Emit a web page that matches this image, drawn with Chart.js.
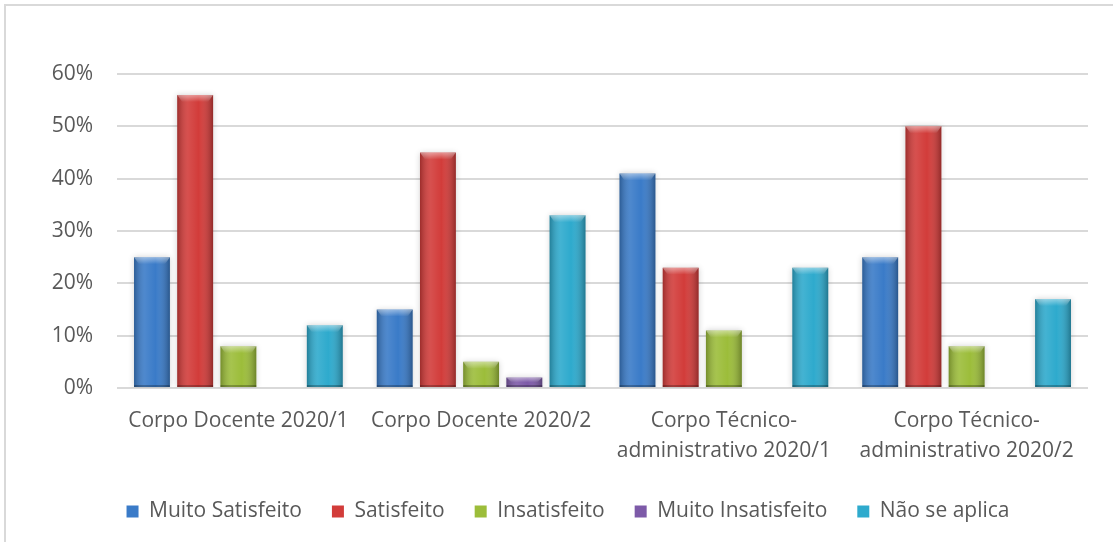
<!DOCTYPE html>
<html>
<head>
<meta charset="utf-8">
<script src="https://cdn.jsdelivr.net/npm/chart.js@4.4.1/dist/chart.umd.min.js"></script>
<style>
    body { margin: 0; background: #fff; }
    #wrap { position: relative; width: 1113px; height: 542px; overflow: hidden; }
    #frame { position: absolute; left: 4px; top: 4px; width: 1200px; height: 600px; border: 2px solid #d9d9d9; }
    canvas { position: absolute; left: 0; top: 0; }
</style>
</head>
<body>
<div id="wrap">
    <div id="frame"></div>
    <canvas id="chart" width="1113" height="542"></canvas>
</div>
<script>
// categories
const categories = [
    'Corpo Docente 2020/1',
    'Corpo Docente 2020/2',
    ['Corpo Técnico-', 'administrativo 2020/1'],
    ['Corpo Técnico-', 'administrativo 2020/2']
];
const seriesNames = ['Muito Satisfeito', 'Satisfeito', 'Insatisfeito', 'Muito Insatisfeito', 'Não se aplica'];

// values in %
const muitoSatisfeito = [25, 15, 41, 25];
const satisfeito = [56, 45, 23, 50];
const insatisfeito = [8, 5, 11, 8];
const muitoInsatisfeito = [0, 2, 0, 0];
const naoSeAplica = [12, 33, 23, 17];

const colors = ['#3a7bc8', '#d23c3a', '#9cbd3a', '#7d5aa8', '#2eaacd'];
const values = [muitoSatisfeito, satisfeito, insatisfeito, muitoInsatisfeito, naoSeAplica];

const textColor = '#595959';
const font = 'Open Sans';

// bevel/3D look on top of each bar
const bevelPlugin = {
    id: 'bevel',
    beforeDatasetDraw(chart) {
        const ctx = chart.ctx;
        ctx.save();
        ctx.shadowColor = 'rgba(0,0,0,0.18)';
        ctx.shadowBlur = 6;
        ctx.shadowOffsetX = 0;
        ctx.shadowOffsetY = 0;
    },
    afterDatasetDraw(chart) {
        chart.ctx.restore();
    },
    afterDatasetsDraw(chart) {
        const ctx = chart.ctx;
        chart.data.datasets.forEach((ds, i) => {
            const meta = chart.getDatasetMeta(i);
            meta.data.forEach(bar => {
                const h = bar.base - bar.y;
                if (h < 1) return;
                const left = bar.x - bar.width / 2;
                const g = ctx.createLinearGradient(left, 0, left + bar.width, 0);
                g.addColorStop(0, 'rgba(0,0,0,0.25)');
                g.addColorStop(0.3, 'rgba(255,255,255,0.1)');
                g.addColorStop(0.6, 'rgba(255,255,255,0.0)');
                g.addColorStop(1, 'rgba(0,0,0,0.3)');
                ctx.save();
                ctx.fillStyle = g;
                ctx.fillRect(left, bar.y, bar.width, h);
                // top highlight
                const capH = Math.min(7, h / 2);
                const g2 = ctx.createLinearGradient(0, bar.y, 0, bar.y + capH);
                g2.addColorStop(0, 'rgba(255,255,255,0.45)');
                g2.addColorStop(1, 'rgba(255,255,255,0)');
                ctx.fillStyle = g2;
                ctx.beginPath();
                ctx.moveTo(left, bar.y);
                ctx.lineTo(left + bar.width, bar.y);
                ctx.lineTo(left + bar.width - 5, bar.y + capH);
                ctx.lineTo(left + 5, bar.y + capH);
                ctx.closePath();
                ctx.fill();
                // bottom dark line
                ctx.fillStyle = 'rgba(0,0,0,0.25)';
                ctx.fillRect(left, bar.base - 2, bar.width, 2);
                ctx.restore();
            });
        });
    }
};

const datasets = seriesNames.map((name, i) => ({
    label: name,
    data: values[i],
    backgroundColor: colors[i],
    borderWidth: 0,
    categoryPercentage: 0.89,
    barPercentage: 0.83
}));

new Chart(document.getElementById('chart'), {
    type: 'bar',
    data: { labels: categories, datasets: datasets },
    plugins: [bevelPlugin],
    options: {
        responsive: false,
        animation: false,
        layout: { padding: { left: 48, right: 25, top: 74, bottom: 10 } },
        plugins: {
            tooltip: { enabled: false },
            legend: {
                position: 'bottom',
                labels: {
                    boxWidth: 12,
                    boxHeight: 12,
                    padding: 30,
                    color: textColor,
                    font: { family: font, size: 21 }
                }
            }
        },
        scales: {
            x: {
                grid: { display: false },
                border: { display: false },
                ticks: {
                    color: textColor,
                    font: { family: font, size: 21, lineHeight: 1.43 },
                    maxRotation: 0,
                    autoSkip: false,
                    padding: 10
                },
                afterFit(scale) { scale.height = 83; }
            },
            y: {
                min: 0,
                max: 60,
                grid: { color: '#d9d9d9', lineWidth: 2, drawTicks: false },
                border: { display: false },
                ticks: {
                    stepSize: 10,
                    color: textColor,
                    font: { family: font, size: 21 },
                    padding: 24,
                    callback: v => v + '%'
                },
                afterFit(scale) { scale.width = 69; }
            }
        }
    }
});
</script>
</body>
</html>
